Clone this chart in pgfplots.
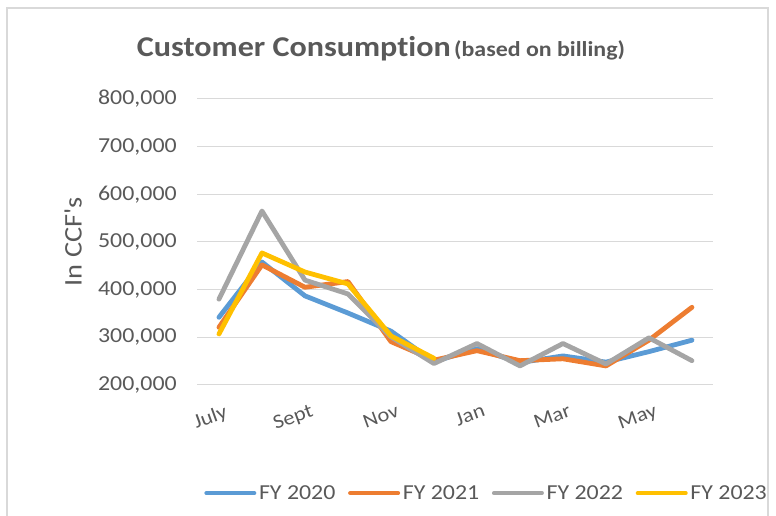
\documentclass[border=0pt]{standalone}
\usepackage{fontspec}
\setmainfont{Carlito}[FakeStretch=1.12, Ligatures=NoCommon]
\usepackage{pgfplots}
\pgfplotsset{compat=1.18}

\definecolor{fyA}{HTML}{5B9BD5}
\definecolor{fyB}{HTML}{ED7D31}
\definecolor{fyC}{HTML}{A5A5A5}
\definecolor{fyD}{HTML}{FFC000}
\definecolor{txt}{HTML}{595959}
\definecolor{gridc}{HTML}{D9D9D9}

\begin{document}
\begin{tikzpicture}
\path[use as bounding box] (-148.1pt,-98.25pt) rectangle (433.9pt,288.75pt);
\clip (-148.1pt,-98.25pt) rectangle (433.9pt,288.75pt);
\draw[gridc, line width=1pt] (-142.9pt,-130pt) rectangle (427.9pt,282.75pt);

\begin{axis}[
    scale only axis,
    width=387pt, height=214.5pt,
    xmin=-0.5, xmax=11.5,
    ymin=200000, ymax=800000,
    xtick={0,2,4,6,8,10},
    xticklabels={July,Sept,Nov,Jan,Mar,May},
    ytick={200000,300000,400000,500000,600000,700000,800000},
    scaled y ticks=false,
    /pgf/number format/fixed,
    /pgf/number format/1000 sep={,},
    /pgf/number format/assume math mode=true,
    ymajorgrids=true,
    xmajorgrids=false,
    grid style={gridc, line width=0.75pt},
    axis line style={draw=none},
    major tick length=0pt,
    tick label style={font=\fontsize{16}{19}\selectfont, text=txt},
    yticklabel style={xshift=-12pt},
    xticklabel style={rotate=20, anchor=north east, yshift=-11pt, xshift=2pt, font=\fontsize{15}{18}\selectfont},
    ylabel={In CCF\textquotesingle s},
    ylabel style={at={(axis description cs:-0.241,0.5)}, anchor=center, font=\fontsize{19}{22}\selectfont, text=txt},
    legend columns=4,
    legend style={at={(axis description cs:0.561,-0.378)}, anchor=center, draw=none, fill=none,
        font=\fontsize{16}{19}\selectfont, text=txt,
        /tikz/every even column/.append style={column sep=7.5pt}},
    legend cell align=left,
    legend image code/.code={\draw[#1, line width=3pt, line cap=round] (0pt,0pt) -- (36pt,0pt);},
    every axis plot/.append style={line width=3.6pt, line join=round, line cap=round},
]
\addplot[fyA] coordinates {
    (0,342000)(1,458000)(2,387000)(3,351000)(4,313000)(5,249000)
    (6,276000)(7,247000)(8,261000)(9,248000)(10,270000)(11,294000)
};
\addplot[fyB] coordinates {
    (0,321000)(1,452000)(2,405000)(3,417000)(4,291000)(5,252000)
    (6,272000)(7,251000)(8,255000)(9,240000)(10,294000)(11,363000)
};
\addplot[fyC] coordinates {
    (0,380000)(1,565000)(2,420000)(3,391000)(4,301000)(5,245000)
    (6,287000)(7,240000)(8,287000)(9,244000)(10,299000)(11,251000)
};
\addplot[fyD] coordinates {
    (0,307000)(1,477000)(2,437000)(3,412000)(4,303000)(5,256000)
};
\legend{FY 2020,FY 2021,FY 2022,FY 2023}
\end{axis}

\node[anchor=base, text=txt] at (137.6pt,246pt)
    {{\fontsize{21.5}{25}\selectfont\bfseries Customer Consumption} {\fontsize{16}{19}\selectfont\bfseries (based on billing)}};
\end{tikzpicture}
\end{document}
